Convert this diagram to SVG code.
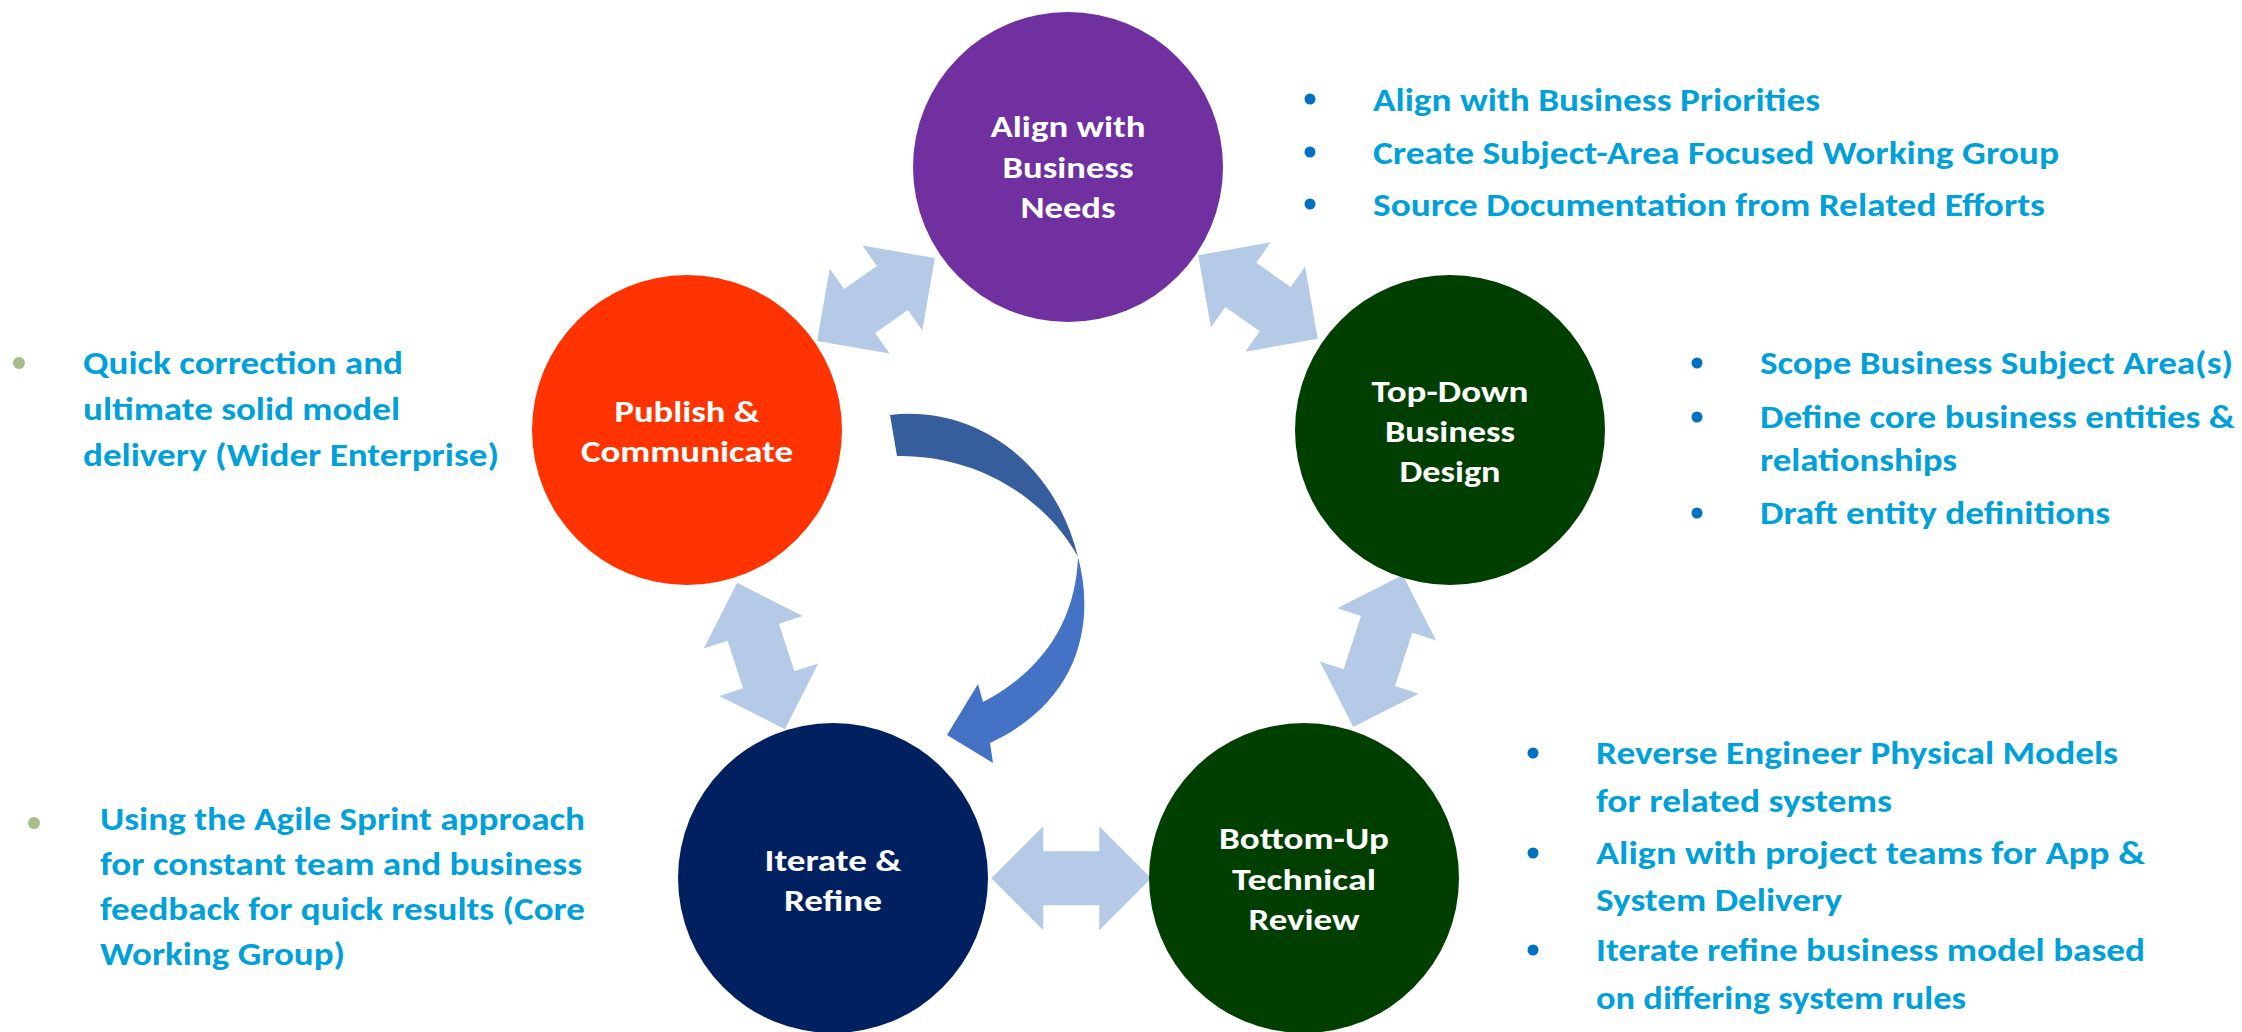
<svg xmlns="http://www.w3.org/2000/svg" width="2242" height="1032" viewBox="0 0 2242 1032">
<style>
.ct{font-family:Carlito,Lato,"Open Sans",sans-serif;font-weight:bold;font-size:31px;fill:#ffffff;text-anchor:middle}
.bt{font-family:Carlito,Lato,"Open Sans",sans-serif;font-weight:bold;font-size:32px;fill:#00A0DA}
.dot{fill:#0070C0}
.gdot{fill:#A8BC8A}
.dbl{fill:#B4CAE6}
</style>
<rect width="2242" height="1032" fill="#ffffff"/>
<g id="connectors">
  <polygon class="dbl" transform="translate(876,299.5) rotate(-35.1)" points="-72,0 -20,-52 -20,-27 20,-27 20,-52 72,0 20,52 20,27 -20,27 -20,52"/>
  <polygon class="dbl" transform="translate(1258,297) rotate(35)" points="-73,0 -21,-52 -21,-27 21,-27 21,-52 73,0 21,52 21,27 -21,27 -21,52"/>
  <polygon class="dbl" transform="translate(1378,651) rotate(108)" points="-80,0 -28,-52 -28,-27 28,-27 28,-52 80,0 28,52 28,27 -28,27 -28,52"/>
  <polygon class="dbl" transform="translate(1071.3,878.3)" points="-80,0 -28,-52 -28,-27 28,-27 28,-52 80,0 28,52 28,27 -28,27 -28,52"/>
  <polygon class="dbl" transform="translate(761,656) rotate(71.9)" points="-77,0 -25,-52 -25,-27 25,-27 25,-52 77,0 25,52 25,27 -25,27 -25,52"/>
  <g id="curved-arrow">
    <path fill="#365D9C" d="M 890,415 C 975,405 1055,462 1078,557 C 1050,505 985,455 897,456 Z"/>
    <path fill="#4472C4" d="M 1078,557 C 1095,620 1082,700 990,743 L 993,763 L 947,735 L 978,684 L 983,702 C 1048,668 1076,615 1078,557 Z"/>
  </g>
</g>
<g id="node-align">
  <circle cx="1068" cy="167" r="155" fill="#7030A0"/>
  <text class="ct" x="1068" y="137" textLength="155" lengthAdjust="spacingAndGlyphs">Align with</text>
  <text class="ct" x="1068" y="178" textLength="131" lengthAdjust="spacingAndGlyphs">Business</text>
  <text class="ct" x="1068" y="218" textLength="95" lengthAdjust="spacingAndGlyphs">Needs</text>
</g>
<g id="node-topdown">
  <circle cx="1450" cy="430" r="155" fill="#003F00"/>
  <text class="ct" x="1450" y="402" textLength="157" lengthAdjust="spacingAndGlyphs">Top-Down</text>
  <text class="ct" x="1450" y="442" textLength="130" lengthAdjust="spacingAndGlyphs">Business</text>
  <text class="ct" x="1450" y="482" textLength="101" lengthAdjust="spacingAndGlyphs">Design</text>
</g>
<g id="node-bottomup">
  <circle cx="1304" cy="878" r="155" fill="#003F00"/>
  <text class="ct" x="1304" y="849" textLength="170" lengthAdjust="spacingAndGlyphs">Bottom-Up</text>
  <text class="ct" x="1304" y="890" textLength="144" lengthAdjust="spacingAndGlyphs">Technical</text>
  <text class="ct" x="1304" y="930" textLength="111" lengthAdjust="spacingAndGlyphs">Review</text>
</g>
<g id="node-iterate">
  <circle cx="833" cy="878" r="155" fill="#002060"/>
  <text class="ct" x="833" y="871" textLength="137" lengthAdjust="spacingAndGlyphs">Iterate &amp;</text>
  <text class="ct" x="833" y="911" textLength="98" lengthAdjust="spacingAndGlyphs">Refine</text>
</g>
<g id="node-publish">
  <circle cx="687" cy="430" r="155" fill="#FF3300"/>
  <text class="ct" x="687" y="422" textLength="145" lengthAdjust="spacingAndGlyphs">Publish &amp;</text>
  <text class="ct" x="687" y="462" textLength="212" lengthAdjust="spacingAndGlyphs">Communicate</text>
</g>
<g id="notes-align">
  <circle class="dot" cx="1310" cy="99" r="5.5"/>
  <circle class="dot" cx="1310" cy="152" r="5.5"/>
  <circle class="dot" cx="1310" cy="204" r="5.5"/>
  <text class="bt" x="1373" y="111" textLength="447" lengthAdjust="spacingAndGlyphs">Align with Business Priorities</text>
  <text class="bt" x="1373" y="164" textLength="686" lengthAdjust="spacingAndGlyphs">Create Subject-Area Focused Working Group</text>
  <text class="bt" x="1373" y="216" textLength="672" lengthAdjust="spacingAndGlyphs">Source Documentation from Related Efforts</text>
</g>
<g id="notes-topdown">
  <circle class="dot" cx="1697" cy="363" r="5.5"/>
  <circle class="dot" cx="1697" cy="417" r="5.5"/>
  <circle class="dot" cx="1697" cy="513" r="5.5"/>
  <text class="bt" x="1760" y="374" textLength="473" lengthAdjust="spacingAndGlyphs">Scope Business Subject Area(s)</text>
  <text class="bt" x="1760" y="428" textLength="475" lengthAdjust="spacingAndGlyphs">Define core business entities &amp;</text>
  <text class="bt" x="1760" y="471" textLength="197" lengthAdjust="spacingAndGlyphs">relationships</text>
  <text class="bt" x="1760" y="524" textLength="350" lengthAdjust="spacingAndGlyphs">Draft entity definitions</text>
</g>
<g id="notes-bottomup">
  <circle class="dot" cx="1533" cy="753" r="5.5"/>
  <circle class="dot" cx="1533" cy="853" r="5.5"/>
  <circle class="dot" cx="1533" cy="950" r="5.5"/>
  <text class="bt" x="1596" y="764" textLength="522" lengthAdjust="spacingAndGlyphs">Reverse Engineer Physical Models</text>
  <text class="bt" x="1596" y="812" textLength="296" lengthAdjust="spacingAndGlyphs">for related systems</text>
  <text class="bt" x="1596" y="864" textLength="549" lengthAdjust="spacingAndGlyphs">Align with project teams for App &amp;</text>
  <text class="bt" x="1596" y="911" textLength="246" lengthAdjust="spacingAndGlyphs">System Delivery</text>
  <text class="bt" x="1596" y="961" textLength="549" lengthAdjust="spacingAndGlyphs">Iterate refine business model based</text>
  <text class="bt" x="1596" y="1009" textLength="370" lengthAdjust="spacingAndGlyphs">on differing system rules</text>
</g>
<g id="notes-publish">
  <circle class="gdot" cx="19" cy="363" r="6"/>
  <text class="bt" x="83" y="374" textLength="320" lengthAdjust="spacingAndGlyphs">Quick correction and</text>
  <text class="bt" x="83" y="420" textLength="317" lengthAdjust="spacingAndGlyphs">ultimate solid model</text>
  <text class="bt" x="83" y="466" textLength="416" lengthAdjust="spacingAndGlyphs">delivery (Wider Enterprise)</text>
</g>
<g id="notes-iterate">
  <circle class="gdot" cx="34" cy="823" r="6"/>
  <text class="bt" x="100" y="830" textLength="485" lengthAdjust="spacingAndGlyphs">Using the Agile Sprint approach</text>
  <text class="bt" x="100" y="875" textLength="482" lengthAdjust="spacingAndGlyphs">for constant team and business</text>
  <text class="bt" x="100" y="920" textLength="485" lengthAdjust="spacingAndGlyphs">feedback for quick results (Core</text>
  <text class="bt" x="100" y="965" textLength="245" lengthAdjust="spacingAndGlyphs">Working Group)</text>
</g>
</svg>
